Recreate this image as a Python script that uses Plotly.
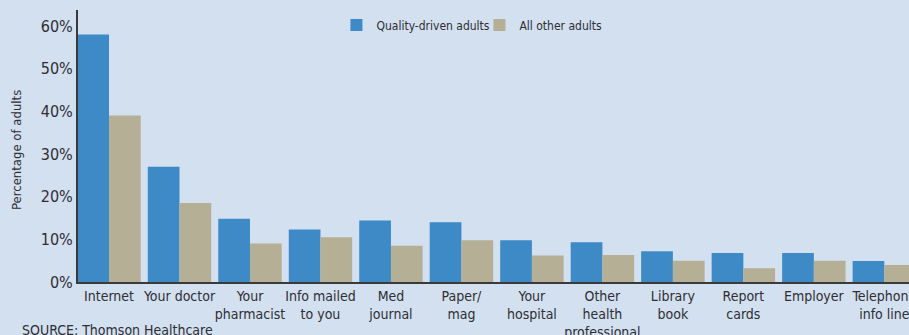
import plotly.graph_objects as go

categories = ["Internet", "Your doctor", "Your<br>pharmacist", "Info mailed<br>to you",
              "Med<br>journal", "Paper/<br>mag", "Your<br>hospital", "Other<br>health<br>professional",
              "Library<br>book", "Report<br>cards", "Employer", "Telephone<br>info line"]
quality_driven = [58.0, 27.0, 14.8, 12.3, 14.4, 14.0, 9.8, 9.3, 7.2, 6.8, 6.8, 4.9]
all_other = [39.0, 18.5, 9.0, 10.5, 8.5, 9.8, 6.2, 6.3, 5.0, 3.2, 5.0, 4.0]
y_ticks = [0, 10, 20, 30, 40, 50, 60]
y_ticktext = ["0%", "10%", "20%", "30%", "40%", "50%", "60%"]

FONT = "Liberation Sans Narrow, DejaVu Sans Condensed, Arial Narrow, sans-serif"
BG = "#d3e0f0"
TXT = "#2e2e33"

fig = go.Figure()
fig.add_trace(go.Bar(x=categories, y=quality_driven, name="Quality-driven adults",
                     marker=dict(color="#3d8ac6", line=dict(width=0))))
fig.add_trace(go.Bar(x=categories, y=all_other, name="All other adults",
                     marker=dict(color="#b5af96", line=dict(width=0))))

fig.update_layout(
    width=909, height=335,
    margin=dict(l=78, r=0, t=10, b=53, autoexpand=False),
    paper_bgcolor=BG, plot_bgcolor=BG,
    barmode="group", bargap=0.1, bargroupgap=0,
    font=dict(family=FONT, color=TXT, size=14),
    showlegend=True,
    legend=dict(orientation="h", x=0.311, y=0.998, xanchor="left", yanchor="top",
                bgcolor="rgba(0,0,0,0)", font=dict(size=12, color=TXT),
                itemwidth=30, entrywidth=98, entrywidthmode="pixels", traceorder="normal"),
    xaxis=dict(type="category", range=[-0.44, 11.35], showline=True, linecolor="#3a3a3a",
               linewidth=2, showgrid=False, ticks="", tickangle=0, automargin=False,
               tickfont=dict(size=14, color=TXT)),
    yaxis=dict(range=[0, 63.75], tickvals=y_ticks, ticktext=y_ticktext, showline=True,
               linecolor="#3a3a3a", linewidth=2, showgrid=False, zeroline=False, ticks="",
               automargin=False, tickfont=dict(size=16, color=TXT)),
    annotations=[
        dict(text="Percentage of adults", textangle=-90, xref="paper", yref="paper",
             x=-0.0746, y=0.485, showarrow=False, font=dict(size=13, color=TXT),
             xanchor="center", yanchor="middle"),
        dict(text="SOURCE: Thomson Healthcare", xref="paper", yref="paper",
             x=-0.0698, y=-0.176, showarrow=False, font=dict(size=14, color=TXT),
             xanchor="left", yanchor="middle"),
    ],
)

fig.write_html(
    "out.html",
    config={"displayModeBar": False},
    post_script="document.body.style.margin='0';document.body.style.background='#d3e0f0';",
)
